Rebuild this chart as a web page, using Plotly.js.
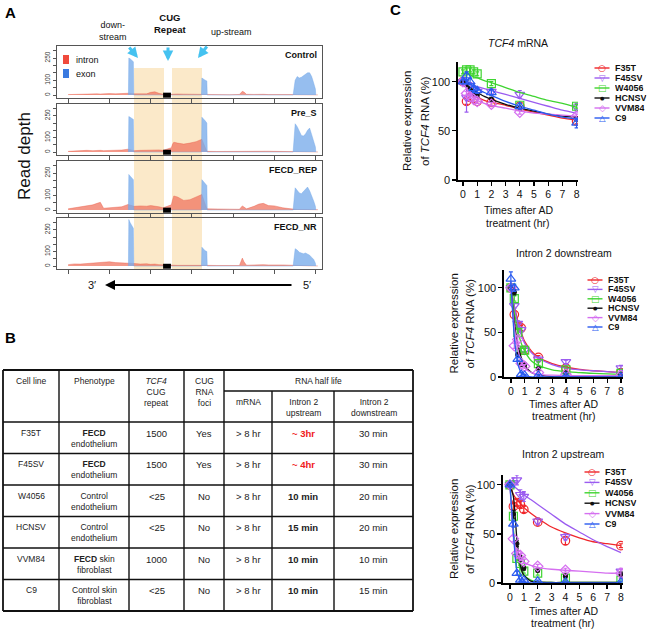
<!DOCTYPE html>
<html>
<head>
<meta charset="utf-8">
<script src="https://cdn.plot.ly/plotly-3.0.1.min.js"></script>
<style>
  html, body { margin: 0; padding: 0; background: #fff; }
  #chart { width: 652px; height: 630px; }
</style>
</head>
<body>
<div id="chart"></div>
<script>
// ---------- Panel A: read coverage along TCF4 intron 2 ----------
var trackNames = ["Control", "Pre_S", "FECD_REP", "FECD_NR"];

var intronPos = [0, 0.15, 0.3, 0.45, 0.6, 0.7, 0.78, 0.86, 1.0, 1.15, 1.3, 1.45, 1.6, 1.75, 1.9, 2.0, 2.1, 2.2,
                 2.3, 2.5, 2.53, 2.56, 2.65, 2.8, 2.95, 3.1, 3.24, 3.36, 3.6, 3.9, 4.15, 4.22, 4.26, 4.32,
                 4.5, 4.62, 4.73, 4.85, 5.0, 5.2, 5.4, 5.55, 5.8, 6.05];
var intronControl = [3, 5, 6, 8, 6, 8, 7, 9, 10, 8, 10, 12, 8, 6, 8, 18, 22, 12,
                     5, 5, 6, 6, 7, 6, 5, 5, 6, 2, 3, 2, 4, 25, 20, 5,
                     4, 6, 5, 3, 4, 3, 3, 2, 2, 1];
var intronPreS = [5, 8, 10, 12, 10, 14, 12, 10, 12, 10, 14, 20, 10, 12, 14, 16, 18, 15,
                  12, 30, 55, 68, 62, 55, 62, 72, 88, 5, 4, 5, 4, 8, 6, 4,
                  5, 8, 7, 6, 5, 4, 3, 3, 2, 1];
var intronRep = [8, 14, 20, 25, 35, 45, 52, 12, 14, 16, 22, 38, 25, 28, 26, 30, 28, 22,
                 15, 35, 70, 95, 88, 65, 70, 88, 105, 8, 5, 6, 5, 28, 20, 8,
                 25, 40, 45, 30, 28, 15, 8, 4, 3, 2];
var intronNR = [10, 15, 14, 18, 22, 25, 28, 26, 30, 24, 22, 25, 18, 14, 16, 12, 14, 10,
                8, 5, 5, 6, 5, 5, 6, 5, 6, 5, 4, 5, 4, 55, 30, 6,
                10, 12, 10, 8, 10, 8, 6, 3, 2, 1];

var exonPos = [1.46, 1.47, 1.5, 1.54, 1.58, 1.59, 3.23, 3.24, 3.28, 3.32, 3.36, 3.37,
               5.45, 5.5, 5.55, 5.6, 5.65, 5.7, 5.75, 5.8, 5.85, 5.9, 5.95, 5.99, 6.0];
var exonControl = [0, 250, 245, 235, 225, 0, 0, 115, 105, 100, 95, 0,
                   0, 100, 125, 115, 120, 130, 140, 150, 150, 125, 80, 40, 0];
var exonPreS = [0, 245, 240, 232, 225, 0, 0, 240, 230, 215, 200, 0,
                0, 195, 175, 140, 115, 110, 125, 150, 165, 120, 80, 35, 0];
var exonRep = [0, 240, 230, 215, 205, 0, 0, 205, 190, 175, 165, 0,
               0, 150, 130, 115, 110, 125, 140, 155, 130, 100, 60, 25, 0];
var exonNR = [0, 320, 300, 280, 260, 0, 0, 130, 115, 105, 100, 0,
              0, 120, 110, 95, 90, 85, 90, 85, 75, 60, 45, 20, 0];

var intronTracks = [intronControl, intronPreS, intronRep, intronNR];
var exonTracks = [exonControl, exonPreS, exonRep, exonNR];

// ---------- Panel B: table ----------
var tableHeads = ["Cell line", "Phenotype", "<i>TCF4</i><br>CUG<br>repeat", "CUG<br>RNA<br>foci"];
var halfLifeHeads = ["mRNA", "Intron 2<br>upstream", "Intron 2<br>downstream"];
var cellLines = ["F35T", "F45SV", "W4056", "HCNSV", "VVM84", "C9"];
var phenotypes = ["<b>FECD</b><br>endothelium", "<b>FECD</b><br>endothelium", "Control<br>endothelium",
                  "Control<br>endothelium", "<b>FECD</b> skin<br>fibroblast", "Control skin<br>fibroblast"];
var cugRepeat = ["1500", "1500", "&lt;25", "&lt;25", "1000", "&lt;25"];
var cugFoci = ["Yes", "Yes", "No", "No", "No", "No"];
var mrnaHalf = ["&gt; 8 hr", "&gt; 8 hr", "&gt; 8 hr", "&gt; 8 hr", "&gt; 8 hr", "&gt; 8 hr"];
var upHalf = ["~ 3hr", "~ 4hr", "10 min", "15 min", "10 min", "10 min"];
var downHalf = ["30 min", "30 min", "20 min", "20 min", "10 min", "15 min"];

// ---------- Panel C: decay after actinomycin D ----------
var seriesNames = ["F35T", "F45SV", "W4056", "HCNSV", "VVM84", "C9"];
var timePts = [0, 0.25, 0.5, 0.75, 1, 2, 4, 8];
var fitTimes = [0, 0.25, 0.5, 0.75, 1, 1.5, 2, 3, 4, 5, 6, 7, 8];

var mrnaPts = [
  [100, 80, 84, 83, 80, 79, 75, 60],
  [100, 84, 96, 92, 90, 90, 87, 74],
  [110, 112, 112, 110, 108, 98, 76, 75],
  [100, 98, 92, 88, 86, 82, 73, 62],
  [100, 88, 85, 82, 80, 77, 69, 65],
  [100, 106, 100, 93, 91, 89, 75, 58]
];
var mrnaErr = [
  [2, 3, 3, 3, 2, 3, 3, 3],
  [2, 15, 3, 3, 3, 3, 4, 4],
  [2, 2, 2, 2, 2, 2, 2, 2],
  [2, 3, 2, 2, 2, 2, 2, 2],
  [2, 2, 2, 2, 2, 2, 2, 2],
  [2, 4, 3, 3, 3, 3, 3, 5]
];
var mrnaFit = [
  [100, 94, 89, 86, 84, 81, 79, 76, 72, 69, 66, 63, 61],
  [100, 98, 97, 96, 95, 93, 91, 87, 83, 79, 75, 71, 68],
  [109, 108, 107, 105, 104, 101, 99, 94, 89, 85, 81, 78, 74],
  [100, 97, 94, 91, 89, 85, 82, 77, 73, 70, 67, 65, 64],
  [100, 93, 88, 84, 81, 78, 76, 73, 70, 68, 67, 66, 65],
  [104, 101, 98, 95, 93, 89, 86, 80, 75, 71, 67, 64, 62]
];

var downPts = [
  [100, 70, 58, 55, 30, 22, 10, 5],
  [100, 80, 60, 53, 30, 20, 17, 10],
  [100, 88, 50, 30, 30, 15, 8, 4],
  [100, 95, 25, 14, 14, 9, 5, 3],
  [100, 35, 42, 15, 12, 5, 3, 2],
  [110, 100, 20, 3, 2, 2, 1, 0]
];
var downErr = [
  [1, 3, 3, 3, 2, 2, 2, 2],
  [1, 3, 3, 3, 2, 2, 2, 3],
  [1, 3, 3, 2, 2, 2, 2, 2],
  [1, 3, 2, 2, 2, 2, 2, 2],
  [1, 3, 3, 2, 2, 2, 2, 2],
  [8, 4, 2, 2, 1, 1, 1, 1]
];
var downFit = [
  [100, 80, 63, 50, 40, 29, 22, 15, 11, 8.5, 7, 6, 5],
  [100, 78, 61, 48, 38, 27, 21, 14, 10, 8, 7, 6, 5],
  [100, 72, 52, 38, 29, 18, 13, 8, 6, 5, 4, 3.5, 3],
  [100, 62, 37, 22, 13, 5, 2, 0.5, 0, 0, 0, 0, 0],
  [100, 56, 31, 18, 10, 5, 3, 2, 1.5, 1.5, 1.5, 1.5, 1.5],
  [106, 45, 15, 5, 2, 0, 0, 0, 0, 0, 0, 0, 0]
];

var upPts = [
  [100, 78, 82, 80, 75, 62, 43, 38],
  [100, 102, 105, 90, 88, 63, 47, 12],
  [100, 68, 25, 20, 12, 10, 5, 3],
  [100, 70, 40, 25, 15, 13, 7, 8],
  [100, 45, 30, 28, 22, 17, 13, 10],
  [100, 60, 10, 3, 3, 2, 1, 1]
];
var upErr = [
  [1, 3, 3, 3, 3, 3, 4, 2],
  [1, 5, 5, 5, 5, 3, 3, 2],
  [1, 3, 2, 2, 2, 2, 2, 2],
  [1, 4, 3, 3, 2, 2, 2, 3],
  [1, 3, 2, 2, 2, 2, 2, 5],
  [1, 3, 2, 1, 1, 1, 1, 1]
];
var upFit = [
  [100, 90, 85, 81, 77, 71, 66, 57, 51, 46, 42, 40, 38],
  [102, 99, 96, 93, 90, 85, 80, 70, 60, 52, 44, 37, 31],
  [100, 55, 28, 15, 8, 3, 1, 0.5, 0.5, 0.5, 0.5, 0.5, 0.5],
  [100, 88, 45, 18, 8, 2, 1, 0.5, 0.5, 0.5, 0.5, 0.5, 0.5],
  [100, 48, 31, 24, 21, 18, 16, 14, 13, 12, 11, 10, 10],
  [100, 50, 12, 3, 1, 0, 0, 0, 0, 0, 0, 0, 0]
];

// styles
var seriesColors = ["#f0262a", "#9b5cf0", "#3fd431", "#111111", "#d56ff0", "#2a5bf0"];
var seriesSymbols = ["circle-open", "triangle-down-open", "square-open", "circle", "diamond-open", "triangle-up-open"];
var seriesSizes = [8.5, 8.5, 8, 4, 8, 8.5];
var legendGlyphs = ["\u25CB", "\u25BD", "\u25A1", "\u25CF", "\u25C7", "\u25B3"];
var legendGlyphSize = [9, 8.5, 9, 5, 9, 8.5];

var FONT = "Arial, 'Liberation Sans', sans-serif";
var W = 652, H = 630;
function px(x) { return x / W; }
function py(y) { return 1 - y / H; }

var data = [];
var shapes = [];
var annotations = [];
var layout = {
    width: W, height: H,
    margin: {l: 0, r: 0, t: 0, b: 0},
    paper_bgcolor: "#fff",
    plot_bgcolor: "rgba(0,0,0,0)",
    showlegend: false,
    font: {family: FONT, size: 10, color: "#111"}
};

function note(text, x, y, opts) {
    var a = {text: text, x: px(x), y: py(y), xref: "paper", yref: "paper",
             xanchor: "center", yanchor: "middle",
             showarrow: false, font: {family: FONT, size: 9, color: "#111"}};
    for (var k in opts) a[k] = opts[k];
    annotations.push(a);
}

// ---------- Panel A ----------
var trackBox = [[46, 98], [104, 155], [161, 213], [218, 269]];
for (var i = 0; i < 4; i++) {
    var n = i + 1;
    var xn = n == 1 ? "x" : "x" + n, yn = n == 1 ? "y" : "y" + n;
    layout["xaxis" + (n == 1 ? "" : n)] = {
        domain: [px(57), px(322)], range: [-0.27, 6.15], anchor: yn,
        showline: true, mirror: true, linecolor: "#555", linewidth: 1,
        ticks: "outside", ticklen: 4, tickcolor: "#555", tickvals: [0, 1, 2, 3, 4, 5, 6],
        showticklabels: false, showgrid: false, zeroline: false
    };
    layout["yaxis" + (n == 1 ? "" : n)] = {
        domain: [py(trackBox[i][1]), py(trackBox[i][0])], range: [-20, 331], anchor: xn,
        showline: true, mirror: true, linecolor: "#555", linewidth: 1,
        ticks: "outside", ticklen: 3, tickcolor: "#555",
        tickvals: [0, 50, 100, 150, 200, 250, 300],
        ticktext: ["0", "", "100", "", "", "250", ""],
        tickangle: -90, tickfont: {size: 6.5, color: "#333"},
        showgrid: false, zeroline: false
    };
    data.push({x: intronPos, y: intronTracks[i], xaxis: xn, yaxis: yn, type: "scatter", mode: "lines",
               fill: "tozeroy", line: {width: 0.5, color: "rgba(232,92,72,0.8)"},
               fillcolor: "rgba(240,112,92,0.72)", hoverinfo: "skip"});
    data.push({x: exonPos, y: exonTracks[i], xaxis: xn, yaxis: yn, type: "scatter", mode: "lines",
               fill: "tozeroy", line: {width: 0.5, color: "rgba(110,165,232,0.8)"},
               fillcolor: "rgba(120,172,234,0.78)", hoverinfo: "skip"});
    // CUG repeat block
    shapes.push({type: "rect", xref: xn, yref: yn, x0: 2.3, x1: 2.49, y0: -18, y1: 16,
                 fillcolor: "#000", line: {width: 0}, layer: "above"});
    note("<b>" + trackNames[i] + "</b>", 319, trackBox[i][0] + 9, {xanchor: "right", font: {family: FONT, size: 9, color: "#111"}});
}
// shaded downstream / upstream windows
shapes.push({type: "rect", xref: "paper", yref: "paper", x0: px(134), x1: px(164), y0: py(269), y1: py(68),
             fillcolor: "#fbe9c9", line: {width: 0}, layer: "below"});
shapes.push({type: "rect", xref: "paper", yref: "paper", x0: px(172), x1: px(202), y0: py(269), y1: py(68),
             fillcolor: "#fbe9c9", line: {width: 0}, layer: "below"});
// intron / exon key
shapes.push({type: "rect", xref: "paper", yref: "paper", x0: px(63), x1: px(69), y0: py(64), y1: py(55),
             fillcolor: "#f04a3c", line: {width: 0}});
shapes.push({type: "rect", xref: "paper", yref: "paper", x0: px(63), x1: px(69), y0: py(78), y1: py(69),
             fillcolor: "#3a7ae0", line: {width: 0}});
note("intron", 74, 59.5, {xanchor: "left"});
note("exon", 74, 73.5, {xanchor: "left"});

note("<b>A</b>", 3, 12, {xanchor: "left", font: {family: FONT, size: 15, color: "#000"}});
note("down-<br>stream", 113, 31, {font: {family: FONT, size: 9, color: "#111"}});
note("<b>CUG<br>Repeat</b>", 170, 24, {font: {family: FONT, size: 9.5, color: "#111"}});
note("up-stream", 231, 32, {font: {family: FONT, size: 9, color: "#111"}});
var cyan = "#45c2f0";
[[138, 58, -10, -12], [168, 61, 0, -15], [198, 58, 10, -13]].forEach(function (a) {
    annotations.push({text: "", x: px(a[0]), y: py(a[1]), xref: "paper", yref: "paper",
                      showarrow: true, ax: a[2], ay: a[3], arrowcolor: cyan, arrowwidth: 3,
                      arrowhead: 2, arrowsize: 0.7});
});
note("Read depth", 24, 156, {textangle: -90, font: {family: FONT, size: 17, color: "#111"}});
note("3\u2032", 92, 285, {font: {family: FONT, size: 11, color: "#111"}});
note("5\u2032", 307, 285, {font: {family: FONT, size: 11, color: "#111"}});
annotations.push({text: "", x: px(105), y: py(285), xref: "paper", yref: "paper",
                  showarrow: true, ax: 188, ay: 0, arrowcolor: "#000", arrowwidth: 2,
                  arrowhead: 2, arrowsize: 1});

// ---------- Panel B ----------
note("<b>B</b>", 3, 337, {xanchor: "left", font: {family: FONT, size: 15, color: "#000"}});
var colEdges = [3, 59, 129, 184, 224, 272, 334, 413];
var tblTop = 370, subLine = 391, headBot = 422, rowH = 31.5;
var nRows = cellLines.length;
var tblBot = headBot + nRows * rowH;
function hline(y, x0, x1, w) {
    shapes.push({type: "line", xref: "paper", yref: "paper", x0: px(x0), x1: px(x1), y0: py(y), y1: py(y),
                 line: {color: "#111", width: w}});
}
function vline(x, y0, y1, w) {
    shapes.push({type: "line", xref: "paper", yref: "paper", x0: px(x), x1: px(x), y0: py(y0), y1: py(y1),
                 line: {color: "#111", width: w}});
}
hline(tblTop, colEdges[0], colEdges[7], 1.8);
hline(subLine, colEdges[4], colEdges[7], 1.4);
for (var r = 0; r <= nRows; r++) hline(headBot + r * rowH, colEdges[0], colEdges[7], r == nRows ? 1.8 : 1.4);
for (var c = 0; c < colEdges.length; c++) {
    var outer = c == 0 || c == colEdges.length - 1;
    vline(colEdges[c], (c == 5 || c == 6) ? subLine : tblTop, tblBot, outer ? 1.8 : 1.4);
}
function cx(c) { return (colEdges[c] + colEdges[c + 1]) / 2; }
var tf = {family: FONT, size: 8.5, color: "#222"};
for (var c = 0; c < tableHeads.length; c++) note(tableHeads[c], cx(c), tblTop + 4, {yanchor: "top", font: tf});
note("RNA half life", (colEdges[4] + colEdges[7]) / 2, tblTop + 4, {yanchor: "top", font: tf});
for (var c = 0; c < 3; c++) note(halfLifeHeads[c], cx(4 + c), subLine + 4, {yanchor: "top", font: tf});
for (var r = 0; r < nRows; r++) {
    var rowTop = headBot + r * rowH + 3.5;
    var up = upHalf[r].charAt(0) == "~" ? "<b><span style='color:#f02020'>" + upHalf[r] + "</span></b>" : "<b>" + upHalf[r] + "</b>";
    var cells = [cellLines[r], phenotypes[r], cugRepeat[r], cugFoci[r], mrnaHalf[r], up, downHalf[r]];
    for (var c = 0; c < cells.length; c++) {
        var f = {family: FONT, size: c >= 2 ? 9.5 : 8.5, color: "#222"};
        note(cells[c], cx(c), rowTop, {yanchor: "top", font: f});
    }
}

// ---------- Panel C ----------
note("<b>C</b>", 388, 10, {xanchor: "left", font: {family: FONT, size: 15, color: "#000"}});
var cPlots = [
    {pts: mrnaPts, err: mrnaErr, fit: mrnaFit, title: "<i>TCF4</i> mRNA",
     bx: [458, 578], by: [62, 180], xr: [-0.35, 8.1], yr: [0, 120],
     titleY: 43, ytx: [407, 425], xty: [210, 223], legX: 602, legY: 68, legDy: 10},
    {pts: downPts, err: downErr, fit: downFit, title: "Intron 2 downstream",
     bx: [504, 623], by: [270, 377], xr: [-0.5, 8.15], yr: [0, 120],
     titleY: 253, ytx: [454, 470], xty: [404, 416], legX: 595, legY: 280, legDy: 9.4},
    {pts: upPts, err: upErr, fit: upFit, title: "Intron 2 upstream",
     bx: [503, 623], by: [475, 583], xr: [-0.5, 8.15], yr: [0, 110],
     titleY: 454, ytx: [454, 470], xty: [611, 623], legX: 592, legY: 472, legDy: 10.4}
];
cPlots.forEach(function (p, k) {
    var n = 5 + k;
    var xn = "x" + n, yn = "y" + n;
    layout["xaxis" + n] = {
        domain: [px(p.bx[0]), px(p.bx[1])], range: p.xr, anchor: yn,
        showline: true, linecolor: "#000", linewidth: 1.6,
        ticks: "outside", ticklen: 4, tickwidth: 1.3, tickcolor: "#000",
        tickvals: [0, 1, 2, 3, 4, 5, 6, 7, 8], tickfont: {family: FONT, size: 10.5, color: "#111"},
        showgrid: false, zeroline: false
    };
    layout["yaxis" + n] = {
        domain: [py(p.by[1]), py(p.by[0])], range: p.yr, anchor: xn,
        showline: true, linecolor: "#000", linewidth: 1.6,
        ticks: "outside", ticklen: 4, tickwidth: 1.3, tickcolor: "#000",
        tickvals: [0, 50, 100], tickfont: {family: FONT, size: 11, color: "#111"},
        showgrid: false, zeroline: false
    };
    for (var s = 0; s < seriesNames.length; s++) {
        data.push({x: fitTimes, y: p.fit[s], xaxis: xn, yaxis: yn, type: "scatter", mode: "lines",
                   line: {color: seriesColors[s], width: 1.3, shape: "spline", smoothing: 0.6},
                   hoverinfo: "skip"});
        data.push({x: timePts, y: p.pts[s], xaxis: xn, yaxis: yn, type: "scatter", mode: "markers",
                   name: seriesNames[s],
                   marker: {symbol: seriesSymbols[s], size: seriesSizes[s], color: seriesColors[s],
                            line: {width: 1.2, color: seriesColors[s]}},
                   error_y: {type: "data", array: p.err[s], visible: true, color: seriesColors[s],
                             thickness: 1.2, width: 2}});
        // legend row
        var ly = p.legY + s * p.legDy;
        shapes.push({type: "line", xref: "paper", yref: "paper", x0: px(p.legX - 7.5), x1: px(p.legX + 7.5),
                     y0: py(ly), y1: py(ly), line: {color: seriesColors[s], width: 1.4}});
        note(legendGlyphs[s], p.legX, ly, {height: 8, borderpad: 0,
             font: {family: "DejaVu Sans", size: legendGlyphSize[s], color: seriesColors[s]}});
        note("<b>" + seriesNames[s] + "</b>", p.legX + 12, ly, {xanchor: "left", height: 8, borderpad: 0,
             font: {family: FONT, size: 9, color: "#111"}});
    }
    var cxm = (p.bx[0] + p.bx[1]) / 2;
    note(p.title, cxm, p.titleY, {font: {family: FONT, size: 10.5, color: "#111"}});
    note("Relative expression", p.ytx[0], (p.by[0] + p.by[1]) / 2, {textangle: -90, font: {family: FONT, size: 11.5, color: "#111"}});
    note("of <i>TCF4</i> RNA (%)", p.ytx[1], (p.by[0] + p.by[1]) / 2, {textangle: -90, font: {family: FONT, size: 11.5, color: "#111"}});
    note("Times after AD", cxm, p.xty[0], {font: {family: FONT, size: 10.5, color: "#111"}});
    note("treatment (hr)", cxm, p.xty[1], {font: {family: FONT, size: 10.5, color: "#111"}});
});

layout.shapes = shapes;
layout.annotations = annotations;
Plotly.newPlot("chart", data, layout, {staticPlot: true});
</script>
</body>
</html>
